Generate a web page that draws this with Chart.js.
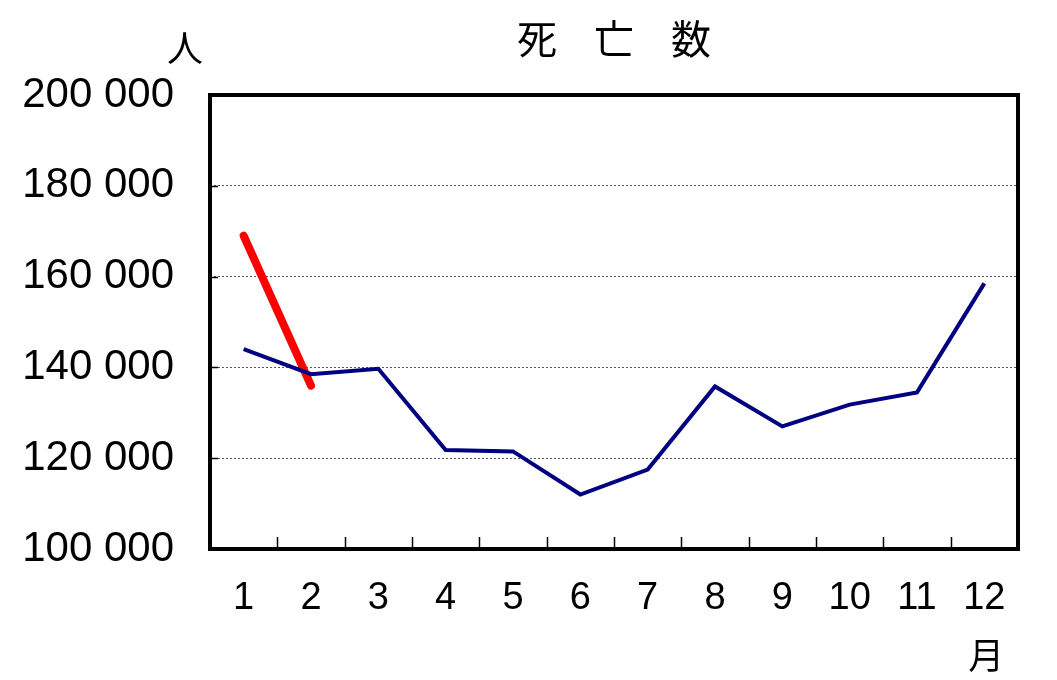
<!DOCTYPE html>
<html>
<head>
<meta charset="utf-8">
<script src="https://cdn.jsdelivr.net/npm/chart.js@4"></script>
<style>
  html, body { margin: 0; padding: 0; background: #fff; }
  #wrap { width: 1057px; height: 680px; }
</style>
</head>
<body>
<div id="wrap"><canvas id="chart" width="1057" height="680"></canvas></div>
<script>
// ==================== Data ====================
const months = ["1", "2", "3", "4", "5", "6", "7", "8", "9", "10", "11", "12"];
const deathsPrev = [144000, 138500, 139700, 121800, 121500, 112000, 117500, 135800, 127000, 131800, 134500, 158500];
const deathsCurr = [169000, 136000, null, null, null, null, null, null, null, null, null, null];
const yMin = 100000, yMax = 200000, yStep = 20000;
const titleText = "死亡数";

const digitFont = "'Liberation Sans', Arial, sans-serif";
const cjkFont = "'Noto Sans CJK JP', sans-serif";

function fmt(v) {
  return String(v).replace(/\B(?=(\d{3})+(?!\d))/g, " ");
}

// ==================== Frame, inward ticks, title, unit labels ====================
const framePlugin = {
  id: "frame",
  afterDatasetsDraw(chart) {
    const { ctx, chartArea: a, scales } = chart;
    ctx.save();
    ctx.strokeStyle = "#000";
    ctx.lineWidth = 1.5;
    // y ticks pointing inward
    scales.y.ticks.forEach(t => {
      if (t.value === yMin || t.value === yMax) return;
      const y = Math.round(scales.y.getPixelForValue(t.value)) + 0.5;
      ctx.beginPath();
      ctx.moveTo(a.left, y);
      ctx.lineTo(a.left + 8, y);
      ctx.stroke();
    });
    // x ticks between categories, pointing up
    for (let i = 1; i < months.length; i++) {
      const x = Math.round(scales.x.getPixelForValue(i - 0.5)) + 0.5;
      ctx.beginPath();
      ctx.moveTo(x, a.bottom);
      ctx.lineTo(x, a.bottom - 12);
      ctx.stroke();
    }
    // border
    ctx.lineWidth = 4;
    ctx.strokeRect(a.left, a.top, a.right - a.left, a.bottom - a.top);

    ctx.fillStyle = "#000";
    ctx.textAlign = "center";
    ctx.textBaseline = "middle";
    // title, spread out over the plot centre
    ctx.font = "40px " + cjkFont;
    const cx = (a.left + a.right) / 2;
    const gap = 77;
    [...titleText].forEach((ch, i) => {
      ctx.fillText(ch, cx + (i - 1) * gap, a.top - 56);
    });
    // units
    ctx.font = "36px " + cjkFont;
    ctx.fillText("人", a.left - 25, a.top - 47);
    ctx.fillText("月", scales.x.getPixelForValue(11) + 2, a.bottom + 106);
    ctx.restore();
  }
};

// ==================== Chart ====================
const ctx = document.getElementById("chart").getContext("2d");
const chart = new Chart(ctx, {
  type: "line",
  data: {
    labels: months,
    datasets: [
      {
        label: "前年",
        data: deathsPrev,
        borderColor: "#000080",
        borderWidth: 4,
        pointRadius: 0,
        tension: 0,
        borderJoinStyle: "miter"
      },
      {
        label: "本年",
        data: deathsCurr,
        borderColor: "#ff0000",
        borderWidth: 8,
        pointRadius: 0,
        tension: 0,
        borderCapStyle: "round",
        spanGaps: false
      }
    ]
  },
  options: {
    responsive: false,
    animation: false,
    layout: { padding: { top: 95, right: 39, left: 0, bottom: 0 } },
    plugins: {
      legend: { display: false },
      tooltip: { enabled: false },
      title: { display: false }
    },
    scales: {
      x: {
        offset: true,
        grid: { display: false },
        border: { display: false },
        ticks: {
          color: "#000",
          font: { family: digitFont, size: 38 },
          padding: 19,
          maxRotation: 0,
          autoSkip: false
        },
        afterFit(scale) { scale.height = 131; }
      },
      y: {
        min: yMin,
        max: yMax,
        grid: {
          drawTicks: false,
          lineWidth: 1,
          color: ctx => (ctx.tick && (ctx.tick.value === yMin || ctx.tick.value === yMax)) ? "rgba(0,0,0,0)" : "#555"
        },
        border: { display: false, dash: [2, 2] },
        ticks: {
          stepSize: yStep,
          color: "#000",
          font: { family: digitFont, size: 42 },
          padding: 36,
          callback: v => fmt(v)
        },
        afterFit(scale) { scale.width = 210; }
      }
    }
  },
  plugins: [framePlugin]
});
</script>
</body>
</html>
